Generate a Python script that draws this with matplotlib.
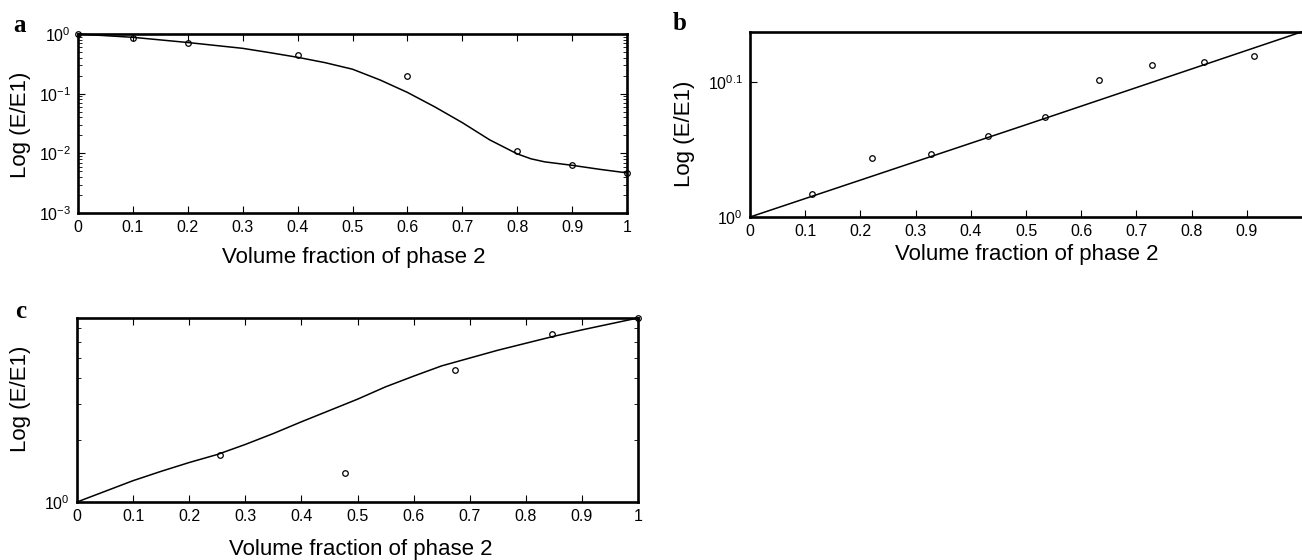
import numpy as np
import matplotlib
matplotlib.use("Agg")
import matplotlib.pyplot as plt
from matplotlib.ticker import NullFormatter, LogLocator

plt.rcParams['font.family'] = ['Liberation Sans', 'DejaVu Sans']
plt.rcParams['mathtext.fontset'] = 'custom'
plt.rcParams['mathtext.rm'] = 'Liberation Sans'
plt.rcParams['mathtext.it'] = 'Liberation Sans'
plt.rcParams['axes.unicode_minus'] = False

# %% data
# panel a
a_pts_x = [0.0, 0.1, 0.2, 0.4, 0.6, 0.8, 0.9, 1.0]
a_pts_y = [1.0, 0.87, 0.716, 0.445, 0.20, 0.0111, 0.0063, 0.0047]
a_fit_x = [0.0, 0.1, 0.2, 0.3, 0.35, 0.4, 0.45, 0.5, 0.55, 0.6, 0.65, 0.7, 0.75,
           0.8, 0.825, 0.85, 0.9, 0.95, 1.0]
a_fit_y = [1.0, 0.88, 0.72, 0.575, 0.486, 0.407, 0.331, 0.257, 0.17, 0.105, 0.060,
           0.0327, 0.0168, 0.0098, 0.0081, 0.0072, 0.0063, 0.0054, 0.0047]

# panel b
b_pts_x = [0.1115, 0.221, 0.327, 0.432, 0.534, 0.633, 0.729, 0.823, 0.913]
b_pts_y = [1.040, 1.106, 1.114, 1.149, 1.186, 1.265, 1.297, 1.304, 1.318]
b_fit_x = [0.0, 0.5, 1.0]
b_fit_y = [1.0, 1.171, 1.373]

# panel c
c_pts_x = [0.2545, 0.478, 0.674, 0.846, 1.0]
c_pts_y = [1.70, 1.39, 4.37, 6.53, 7.85]
c_fit_x = [0.0, 0.05, 0.1, 0.15, 0.2, 0.25, 0.3, 0.35, 0.4, 0.45, 0.5, 0.55, 0.6,
           0.65, 0.7, 0.75, 0.8, 0.85, 0.9, 0.95, 1.0]
c_fit_y = [1.0, 1.127, 1.270, 1.41, 1.556, 1.702, 1.905, 2.153, 2.455, 2.786, 3.162,
           3.631, 4.093, 4.592, 5.012, 5.470, 5.916, 6.397, 6.871, 7.345, 7.852]

xticks = [0, 0.1, 0.2, 0.3, 0.4, 0.5, 0.6, 0.7, 0.8, 0.9, 1]
xlabels = ['0', '0.1', '0.2', '0.3', '0.4', '0.5', '0.6', '0.7', '0.8', '0.9', '1']

W, H = 1302, 560
fig = plt.figure(figsize=(W / 100, H / 100), dpi=100)


def box(l, r, t, b):
    return [l / W, 1 - b / H, (r - l) / W, (b - t) / H]


def style(ax):
    for s in ax.spines.values():
        s.set_linewidth(1.9)
    ax.tick_params(which='major', direction='in', length=5, width=0.8, labelsize=11.5, pad=5)
    ax.tick_params(which='minor', direction='in', length=3, width=0.6)
    ax.set_xlabel('Volume fraction of phase 2', fontsize=16)
    ax.set_ylabel('Log (E/E1)', fontsize=16)


def draw(ax, fx, fy, px, py):
    ax.plot(fx, fy, color='black', lw=1.1, clip_on=False)
    ax.plot(px, py, 'o', mfc='none', mec='black', ms=4, mew=0.9, clip_on=False)


# %% panel a
ax1 = fig.add_axes(box(78, 627, 34, 213))
ax1.set_yscale('log')
draw(ax1, a_fit_x, a_fit_y, a_pts_x, a_pts_y)
ax1.set_xlim(0, 1)
ax1.set_ylim(1e-3, 1)
ax1.set_xticks(xticks)
ax1.set_xticklabels(xlabels)
ax1.yaxis.set_major_locator(LogLocator(base=10, numticks=10))
ax1.yaxis.set_minor_locator(LogLocator(base=10, subs=np.arange(2, 10), numticks=20))
ax1.yaxis.set_minor_formatter(NullFormatter())
style(ax1)
ax1.tick_params(which='both', top=True, right=True)
ax1.xaxis.set_label_coords(0.502, -0.19)
ax1.yaxis.set_label_coords(-0.085, 0.49)

# %% panel b
ax2 = fig.add_axes(box(750, 1302, 32, 217))
ax2.set_yscale('log')
draw(ax2, b_fit_x, b_fit_y, b_pts_x, b_pts_y)
ax2.set_xlim(0, 1)
ax2.set_ylim(1, 10 ** 0.1375)
ax2.set_xticks(xticks[:-1])
ax2.set_xticklabels(xlabels[:-1])
ax2.set_yticks([1, 10 ** 0.1])
ax2.set_yticklabels([r'$\mathregular{10^{0}}$', r'$\mathregular{10^{0.1}}$'])
ax2.yaxis.set_minor_locator(plt.NullLocator())
ax2.yaxis.set_minor_formatter(NullFormatter())
style(ax2)
ax2.spines['right'].set_visible(False)
ax2.xaxis.set_label_coords(0.502, -0.145)
ax2.yaxis.set_label_coords(-0.10, 0.45)

# %% panel c
ax3 = fig.add_axes(box(77, 638, 318, 502))
ax3.set_yscale('log')
draw(ax3, c_fit_x, c_fit_y, c_pts_x, c_pts_y)
ax3.set_xlim(0, 1)
ax3.set_ylim(1, 7.85)
ax3.set_xticks(xticks)
ax3.set_xticklabels(xlabels)
ax3.set_yticks([1])
ax3.set_yticklabels([r'$\mathregular{10^{0}}$'])
ax3.yaxis.set_minor_locator(LogLocator(base=10, subs=np.arange(2, 10), numticks=20))
ax3.yaxis.set_minor_formatter(NullFormatter())
style(ax3)
ax3.tick_params(which='both', top=True, right=True)
ax3.xaxis.set_label_coords(0.505, -0.20)
ax3.yaxis.set_label_coords(-0.082, 0.56)

# %% panel letters
for lbl, x, y in [('a', 20, 26), ('b', 680, 23), ('c', 21, 311)]:
    fig.text(x / W, 1 - y / H, lbl, fontsize=18, fontweight='bold',
             family='Liberation Serif', ha='center', va='center')

fig.savefig('out.png', dpi=100)
